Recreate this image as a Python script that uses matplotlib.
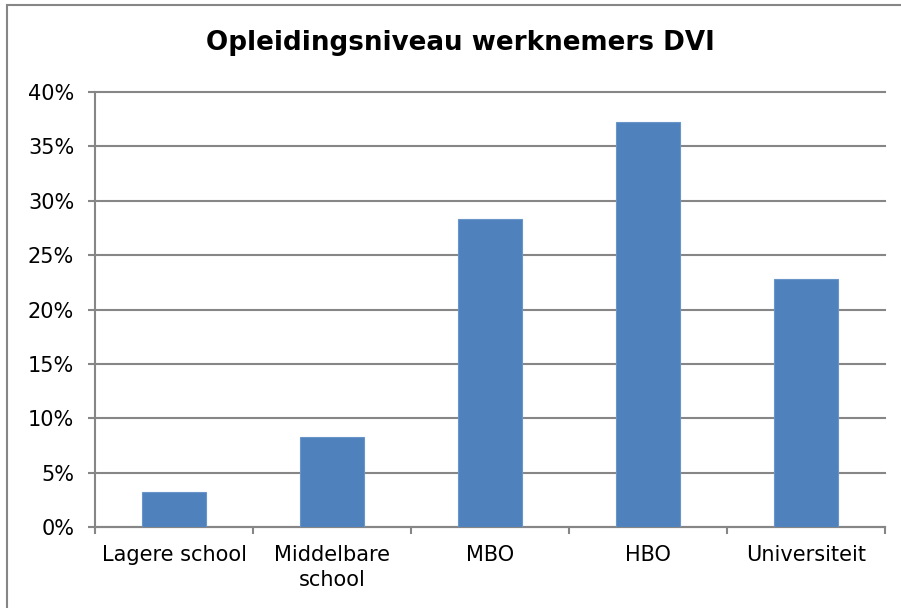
import matplotlib.pyplot as plt
from matplotlib.patches import Rectangle
from matplotlib.ticker import FuncFormatter

# Opleidingsniveau werknemers DVI - share of employees per education level
categories = ['Lagere school', 'Middelbare\nschool', 'MBO', 'HBO', 'Universiteit']
shares = [3.2, 8.3, 28.3, 37.2, 22.8]
y_ticks = [0, 5, 10, 15, 20, 25, 30, 35, 40]

W, H = 901, 608
bar_color = '#4F81BD'
grid_color = '#868686'

plt.rcParams['font.family'] = ['DejaVu Sans']

fig = plt.figure(figsize=(W / 100, H / 100), dpi=100)
fig.patch.set_facecolor('white')

# chart border (only left/top visible in the crop)
fig.patches.append(Rectangle((7 / W, -0.05), 1.2, 1.05 - 5 / H,
                             transform=fig.transFigure, fill=False,
                             edgecolor=grid_color, linewidth=1.5))

ax = fig.add_axes([95 / W, (H - 527) / H, (885 - 95) / W, (527 - 92) / H])

x = range(len(categories))
ax.bar(x, shares, width=0.4, color=bar_color, edgecolor='#6A95C9',
       linewidth=0.8, zorder=3)

ax.set_xlim(-0.5, len(categories) - 0.5)
ax.set_ylim(0, 40)
ax.set_yticks(y_ticks)
ax.yaxis.set_major_formatter(FuncFormatter(lambda v, p: f'{v:.0f}%'))
ax.yaxis.grid(True, color=grid_color, linewidth=1.5, zorder=0)
for gl in ax.get_ygridlines():
    gl.set_clip_on(False)

# category labels centred, ticks at category boundaries
ax.set_xticks(list(x))
ax.set_xticklabels(categories, fontsize=15, linespacing=1.3)
ax.set_xticks([i - 0.5 for i in range(len(categories) + 1)], minor=True)
ax.tick_params(axis='x', which='major', length=0, pad=13)
ax.tick_params(axis='x', which='minor', length=5, width=1.5, color=grid_color)
ax.tick_params(axis='y', length=5, width=1.5, color=grid_color, pad=10,
               labelsize=15)

for side in ['top', 'right']:
    ax.spines[side].set_visible(False)
for side in ['left', 'bottom']:
    ax.spines[side].set_color(grid_color)
    ax.spines[side].set_linewidth(1.5)

fig.text(460 / W, 1 - 43 / H, 'Opleidingsniveau werknemers DVI',
         ha='center', va='center', fontsize=18.8, fontweight='bold')

fig.savefig('out.png', dpi=100)
